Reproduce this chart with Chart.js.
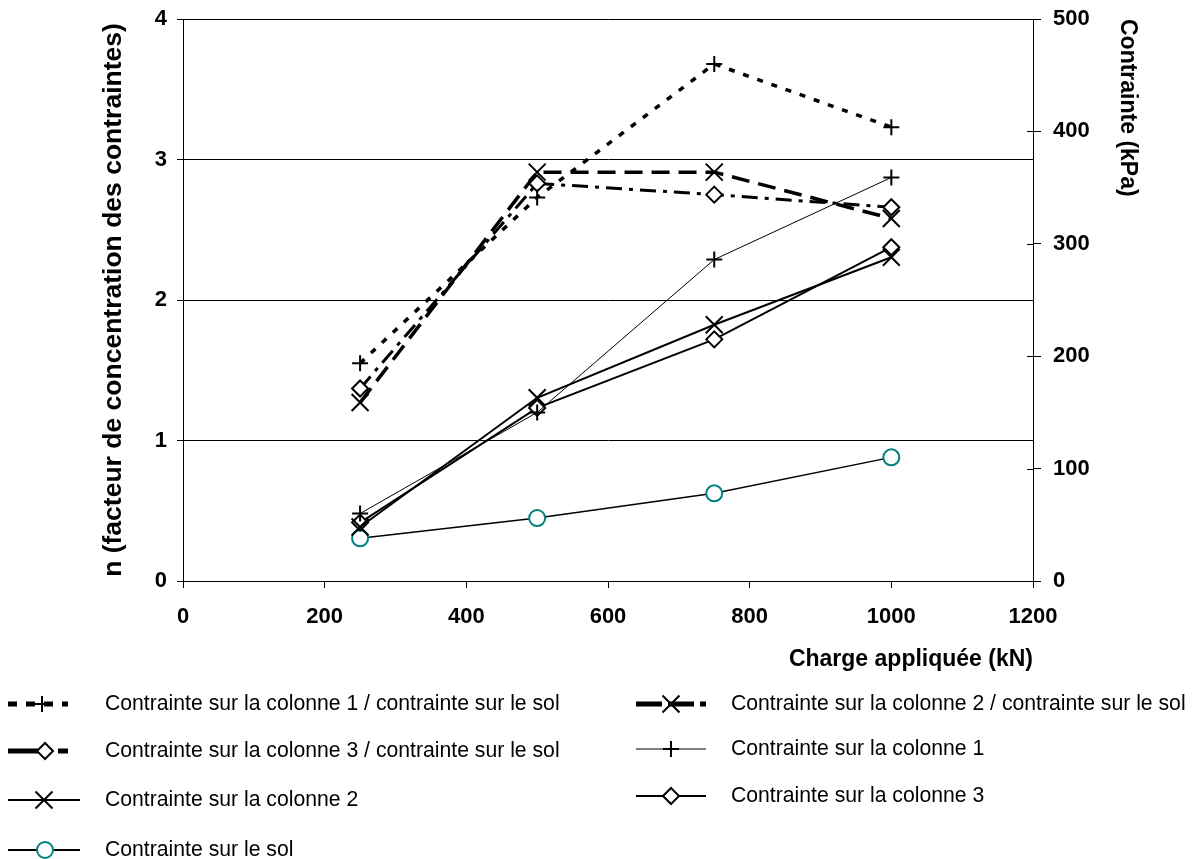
<!DOCTYPE html>
<html><head><meta charset="utf-8">
<script src="https://cdn.jsdelivr.net/npm/chart.js@4/dist/chart.umd.min.js"></script>
<style>html,body{margin:0;padding:0;background:#fff;} #wrap{position:relative;width:1196px;height:859px;}</style>
</head><body><div id="wrap"><canvas id="c" width="1196" height="859"></canvas></div>
<script>
// ---- data ----
const charges = [250, 500, 750, 1000];            // kN
const ratioCol1 = [1.55, 2.73, 3.68, 3.23];        // n, left axis
const ratioCol2 = [1.27, 2.91, 2.91, 2.58];
const ratioCol3 = [1.37, 2.83, 2.75, 2.66];
const stressCol1 = [60, 150, 286, 359];            // kPa, right axis
const stressCol2 = [48, 163, 228, 288];
const stressCol3 = [52, 154, 215, 297];
const stressSol = [38, 56, 78, 110];
const labels = [
  'Contrainte sur la colonne 1 / contrainte sur le sol',
  'Contrainte sur la colonne 2 / contrainte sur le sol',
  'Contrainte sur la colonne 3 / contrainte sur le sol',
  'Contrainte sur la colonne 1',
  'Contrainte sur la colonne 2',
  'Contrainte sur la colonne 3',
  'Contrainte sur le sol'
];
const xTitle = 'Charge appliquée (kN)';
const yTitle = 'n (facteur de concentration des contraintes)';
const y2Title = 'Contrainte (kPa)';

const pts = (vals) => charges.map((c, i) => ({x: c, y: vals[i]}));
const FONT = "'Liberation Sans', Arial, Helvetica, sans-serif";
Chart.defaults.font.family = FONT;
Chart.defaults.color = '#000';

const styles = [
  {axis:'y',  data: ratioCol1, bw:3.5, dash:[6,9], ps:'cross', r:8, fill:'#fff', pc:'#000', lgDash:[9,9], lgW:5},
  {axis:'y',  data: ratioCol2, bw:3.5, dash:[18,9], ps:'crossRot', r:12, fill:'#fff', pc:'#000', lgDash:[26,6], lgW:5},
  {axis:'y',  data: ratioCol3, bw:3, dash:[16,7,4,7], ps:'rectRot', r:8, fill:'#fff', pc:'#000', lgDash:[30,6,8,6], lgW:5},
  {axis:'y2', data: stressCol1, bw:1, dash:[], ps:'cross', r:8, fill:'#fff', pc:'#000', lgDash:[], lgW:1},
  {axis:'y2', data: stressCol2, bw:2, dash:[], ps:'crossRot', r:12, fill:'#fff', pc:'#000', lgDash:[], lgW:2},
  {axis:'y2', data: stressCol3, bw:2, dash:[], ps:'rectRot', r:8, fill:'#fff', pc:'#000', lgDash:[], lgW:2},
  {axis:'y2', data: stressSol, bw:1.5, dash:[], ps:'circle', r:8, fill:'#fff', pc:'#008080', lgDash:[], lgW:2}
];

const datasets = styles.map((s, i) => ({
  label: labels[i],
  data: pts(s.data),
  yAxisID: s.axis,
  borderColor: '#000',
  borderWidth: s.bw,
  borderDash: s.dash,
  pointStyle: s.ps,
  pointRadius: s.r,
  pointHoverRadius: s.r,
  pointBorderWidth: 2,
  pointBorderColor: s.pc,
  pointBackgroundColor: s.fill,
  tension: 0,
  fill: false
}));

// legend layout (positions only)
const legendLayout = [
  {ds:0, x0:8,   x1:68,  mx:42,  tx:105, y:704},
  {ds:1, x0:636, x1:706, mx:671, tx:731, y:704},
  {ds:2, x0:8,   x1:68,  mx:45,  tx:105, y:751},
  {ds:3, x0:636, x1:706, mx:671, tx:731, y:749},
  {ds:4, x0:8,   x1:80,  mx:44,  tx:105, y:800},
  {ds:5, x0:636, x1:706, mx:671, tx:731, y:796},
  {ds:6, x0:8,   x1:80,  mx:45,  tx:105, y:850}
];

const extras = {
  id: 'extras',
  afterDraw(chart) {
    const ctx = chart.ctx;
    const ca = chart.chartArea;
    // inner half of crossing ticks on right axis
    const y2 = chart.scales.y2;
    ctx.save();
    ctx.strokeStyle = '#000'; ctx.lineWidth = 1;
    y2.ticks.forEach(t => {
      const py = Math.round(y2.getPixelForValue(t.value)) + 0.5;
      ctx.beginPath(); ctx.moveTo(ca.right - 6, py); ctx.lineTo(ca.right, py); ctx.stroke();
    });
    ctx.restore();
    // legend
    legendLayout.forEach(L => {
      const s = styles[L.ds];
      ctx.save();
      ctx.strokeStyle = '#000';
      ctx.lineWidth = s.lgW;
      ctx.setLineDash(s.lgDash);
      ctx.beginPath(); ctx.moveTo(L.x0, L.y); ctx.lineTo(L.x1, L.y); ctx.stroke();
      ctx.setLineDash([]);
      ctx.lineWidth = 2;
      ctx.strokeStyle = s.pc;
      ctx.fillStyle = s.fill;
      Chart.helpers.drawPoint(ctx, {pointStyle: s.ps, radius: s.r, borderWidth: 2, rotation: 0}, L.mx, L.y);
      ctx.fillStyle = '#000';
      ctx.font = '21.2px ' + FONT;
      ctx.textBaseline = 'middle';
      ctx.textAlign = 'left';
      ctx.fillText(labels[L.ds], L.tx, L.y);
      ctx.restore();
    });
  }
};

const plainTick = (v) => String(v);

new Chart(document.getElementById('c'), {
  type: 'line',
  data: { datasets },
  plugins: [extras],
  options: {
    responsive: false,
    animation: false,
    devicePixelRatio: 1,
    layout: { padding: { left: 0, right: 0, top: 19, bottom: 178 } },
    plugins: { legend: { display: false }, tooltip: { enabled: false } },
    scales: {
      x: {
        type: 'linear', min: 0, max: 1200,
        ticks: { stepSize: 200, padding: 16, font: { size: 22, weight: 'bold' }, color: '#000', callback: plainTick },
        grid: { display: true, drawOnChartArea: false, color: '#000', tickLength: 7, lineWidth: 1 },
        border: { display: true, color: '#000', width: 1 },
        title: { display: true, text: xTitle, align: 'end', font: { size: 23, weight: 'bold' }, color: '#000', padding: { top: 0, bottom: 8 } },
        afterFit(s) { s.height = 100; s.paddingLeft = 0; s.paddingRight = 0; }
      },
      y: {
        type: 'linear', position: 'left', min: 0, max: 4,
        ticks: { stepSize: 1, padding: 10, font: { size: 22, weight: 'bold' }, color: '#000', callback: plainTick },
        grid: { color: '#000', lineWidth: 1, tickLength: 6 },
        border: { display: true, color: '#000', width: 1 },
        title: { display: true, text: yTitle, font: { size: 26.5, weight: 'bold' }, color: '#000', padding: { top: 98, bottom: 0 } },
        afterFit(s) { s.width = 183; s.paddingTop = 0; s.paddingBottom = 0; }
      },
      y2: {
        type: 'linear', position: 'right', min: 0, max: 500,
        ticks: { stepSize: 100, padding: 12, font: { size: 22, weight: 'bold' }, color: '#000', callback: plainTick },
        grid: { drawOnChartArea: false, color: '#000', lineWidth: 1, tickLength: 8 },
        border: { display: true, color: '#000', width: 1 },
        title: { display: true, text: y2Title, align: 'end', font: { size: 23, weight: 'bold' }, color: '#000', padding: { top: 55, bottom: 0 } },
        afterFit(s) { s.width = 163; s.paddingTop = 0; s.paddingBottom = 0; }
      }
    }
  }
});
</script>
</body></html>
